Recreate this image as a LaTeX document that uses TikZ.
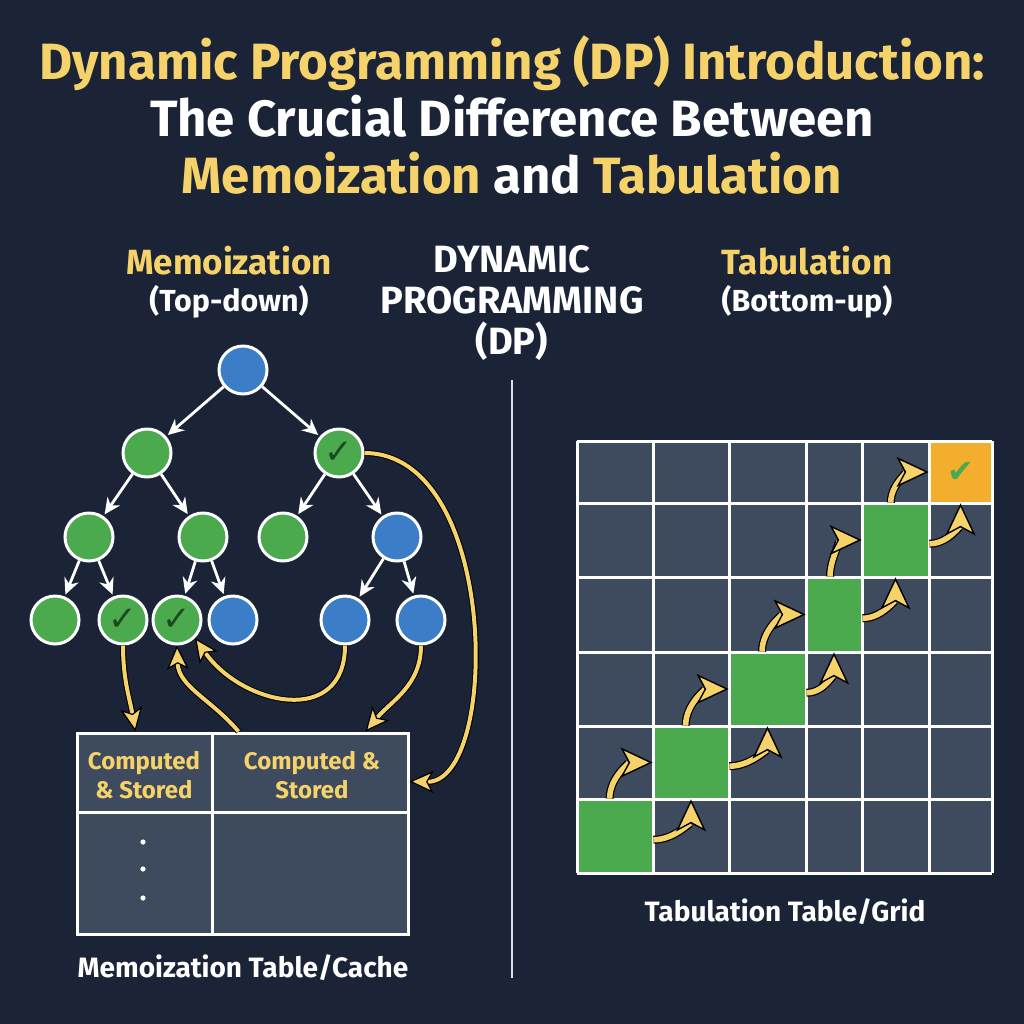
\documentclass[tikz,border=0pt]{standalone}
\usepackage{fontspec}
\setmainfont{Fira Sans}
\newfontfamily\checkfont{DejaVu Sans}
\usetikzlibrary{arrows.meta,calc,fit,positioning}
\definecolor{dpbg}{HTML}{1B2436}
\definecolor{dpcell}{HTML}{3E4A5E}
\definecolor{dpgreen}{HTML}{4CAA4E}
\definecolor{dpblue}{HTML}{3B7DC6}
\definecolor{dpyellow}{HTML}{F6D36A}
\definecolor{dporange}{HTML}{F4AE2E}
\definecolor{dpcheck}{HTML}{1C4A20}
\newcommand\subheadfont{\fontsize{15.2}{18.5}\selectfont}
\tikzset{
    dp diagram/.style = {x=0.5pt, y=-0.5pt},
    title/.style      = {font=\fontsize{25.5}{28.5}\selectfont\bfseries,
                         text=white, align=center},
    head/.style       = {font=\fontsize{17.5}{18.5}\selectfont\bfseries,
                         text=white, align=center},
    caption/.style    = {font=\fontsize{14}{16}\selectfont\bfseries,
                         text=white},
    cellhead/.style   = {font=\fontsize{12}{14.5}\selectfont\bfseries,
                         text=dpyellow, align=center},
    state/.style      = {circle, draw=white, line width=1.5pt,
                         minimum size=24pt, inner sep=0pt},
    todo/.style       = {state, fill=dpblue},
    done/.style       = {state, fill=dpgreen},
    stored/.style     = {done, text=dpcheck,
                         font=\checkfont\fontsize{17}{17}\selectfont},
    call/.style       = {draw=white, line width=1.4pt, shorten >=1pt,
                         -{Stealth[length=8pt, width=7.5pt]}},
    reuse/.style      = {draw=dpyellow, line width=2pt,
                         -{Stealth[length=12pt, width=11pt, inset=3pt,
                                   color=black, fill=dpyellow,
                                   line width=0.6pt]},
                         preaction={draw=black, line width=3pt, -,
                                    shorten >=9pt}},
    steparrow/.style  = {draw=dpyellow, line width=2.8pt,
                         -{Stealth[length=16pt, width=15pt, inset=4pt,
                                   color=black, fill=dpyellow,
                                   line width=0.7pt]},
                         preaction={draw=black, line width=4pt, -,
                                    shorten >=12pt}},
    table/.style      = {draw=white, line width=1.5pt, fill=dpcell,
                         inner sep=0pt},
    tablerule/.style  = {draw=white, line width=1.5pt},
    gcell/.style      = {fill=dpgreen, inner sep=0pt},
    gridline/.style   = {draw=white, line width=1.5pt}
}

\begin{document}
\begin{tikzpicture}[dp diagram]

\fill[dpbg] (0,0) rectangle (1024,1024);
\useasboundingbox (0,0) rectangle (1024,1024);

% ================= Title =================
\node[title] (title) at (512,115)
    {\textcolor{dpyellow}{Dynamic Programming (DP) Introduction:}\\
     The Crucial Difference Between\\
     \textcolor{dpyellow}{Memoization} and \textcolor{dpyellow}{Tabulation}};

% ================= Column heads =================
\node[head] (memohead) at (229,282)
    {\textcolor{dpyellow}{Memoization}\\{\subheadfont (Top-down)}};
\node[head, font=\fontsize{19}{20.5}\selectfont\bfseries] (dphead) at (512,303)
    {DYNAMIC\\PROGRAMMING\\(DP)};
\node[head] (tabhead) at (807,282)
    {\textcolor{dpyellow}{Tabulation}\\{\subheadfont (Bottom-up)}};
\draw[white!85!dpbg, line width=1pt] (512,380) -- (512,978);

% ================= Recursion tree =================
\node[todo]   (root) at (243,370) {};
\node[done]   (n1a)  at (147,453) {};
\node[stored] (n1b)  at (339,453) {✓};
\node[done]   (n2a)  at (89,537)  {};
\node[done]   (n2b)  at (203,537) {};
\node[done]   (n2c)  at (283,537) {};
\node[todo]   (n2d)  at (397,537) {};
\node[done]   (n3a)  at (55,620)  {};
\node[stored] (n3b)  at (123,620) {✓};
\node[stored] (n3c)  at (177,620) {✓};
\node[todo]   (n3d)  at (233,620) {};
\node[todo]   (n3e)  at (345,620) {};
\node[todo]   (n3f)  at (421,620) {};
\draw[call] (root) -- (n1a);
\draw[call] (root) -- (n1b);
\draw[call] (n1a) -- (n2a);
\draw[call] (n1a) -- (n2b);
\draw[call] (n1b) -- (n2c);
\draw[call] (n1b) -- (n2d);
\draw[call] (n2a) -- (n3a);
\draw[call] (n2a) -- (n3b);
\draw[call] (n2b) -- (n3c);
\draw[call] (n2b) -- (n3d);
\draw[call] (n2d) -- (n3e);
\draw[call] (n2d) -- (n3f);

% ================= Memoization table =================
\node[table, fit={(77,733) (408,934)}] (cache) {};
\draw[tablerule] (77,812) -- (408,812);
\draw[tablerule] (212,733) -- (212,934);
\node[cellhead] (hleft)  at (144,775) {Computed\\\& Stored};
\node[cellhead] (hright) at (312,775) {Computed \&\\Stored};
\fill[white] (143,842) circle (1.3pt) (143,869) circle (1.3pt)
    (143,898) circle (1.3pt);
\node[caption] (memocap) at (243,968) {Memoization Table/Cache};

% cache lookups
\draw[reuse] (n3b.south) to[out=-90, in=100] ($(cache.north west)+(60,0)$);
\draw[reuse] (n3e.south) to[out=-90, in=-55, looseness=1.4] (n3c.south east);
\draw[reuse] ($(cache.north west)+(163,0)$) to[out=130, in=-88] (n3c.south);
\draw[reuse] (n3f.south) to[out=-90, in=50] ($(cache.north west)+(290,0)$);
\draw[reuse] (n1b.east) .. controls (500,453) and (500,783)
    .. ($(cache.north east)+(0,50)$);

% ================= Tabulation grid =================
\fill[dpcell] (577,441) rectangle (992,873);
\node[gcell, fit={(577,799) (653,873)}] (g0) {};
\node[gcell, fit={(653,726) (729,799)}] (g1) {};
\node[gcell, fit={(729,652) (806,726)}] (g2) {};
\node[gcell, fit={(806,577) (862,652)}] (g3) {};
\node[gcell, fit={(862,503) (929,577)}] (g4) {};
\node[gcell, fill=dporange, fit={(929,441) (992,503)}] (goal) {};
\node[text=dpgreen, font=\checkfont\fontsize{16}{16}\selectfont]
    (goalcheck) at (goal) {✔};
\foreach \x in {577,653,729,806,862,929,992}
    \draw[gridline] (\x,441) -- (\x,873);
\foreach \y in {441,503,577,652,726,799,873}
    \draw[gridline] (577,\y) -- (992,\y);
\node[caption] (tabcap) at (785,912) {Tabulation Table/Grid};

% steps
\foreach \a/\b in {g0/g1, g1/g2, g2/g3, g3/g4, g4/goal} {
    \draw[steparrow] ($(\a.north west)!0.43!(\a.north east)$)
        to[out=90, in=180] (\b.west);
    \draw[steparrow] ($(\a.north east)!0.55!(\a.south east)$)
        to[out=0, in=-90] (\b.south);
}

\end{tikzpicture}
\end{document}
